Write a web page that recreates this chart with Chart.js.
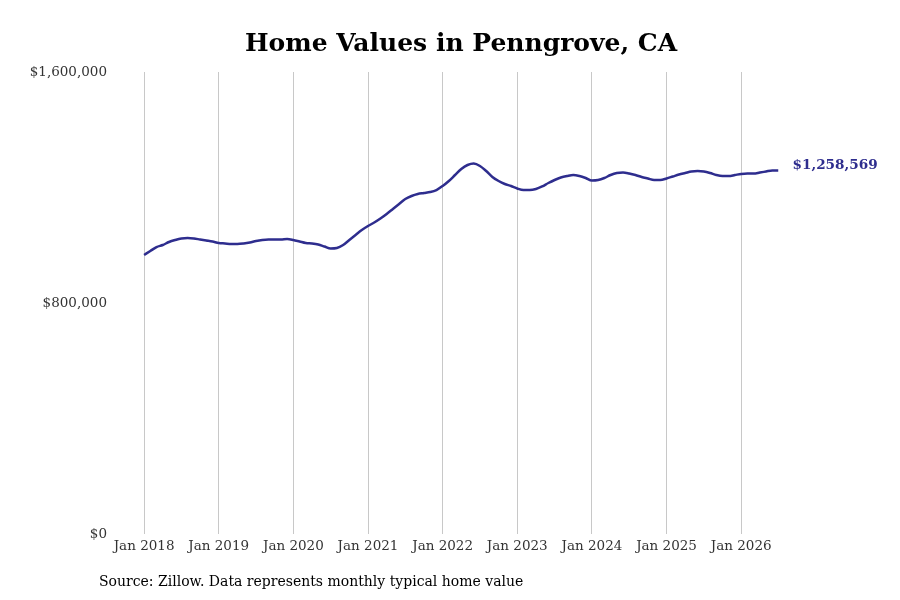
<!DOCTYPE html>
<html>
<head>
<meta charset="utf-8">
<title>Home Values in Penngrove, CA</title>
<script src="https://cdn.jsdelivr.net/npm/chart.js@4"></script>
<style>
  html, body { margin: 0; padding: 0; background: #fff; }
  #wrap { width: 900px; height: 600px; position: relative; }
</style>
</head>
<body>
<div id="wrap"><canvas id="chart" width="900" height="600"></canvas></div>
<script>
// Monthly typical home value, Jan 2018 .. Jul 2026
const values2018 = [966200, 980100, 993900, 1000900, 1011300, 1018200, 1023400, 1025100, 1023400, 1019900, 1016500, 1013000];
const values2019 = [1007800, 1006100, 1004300, 1004300, 1006100, 1009500, 1014700, 1018200, 1019900, 1019900, 1019900, 1021600];
const values2020 = [1018200, 1013000, 1007800, 1006100, 1002600, 995700, 988700, 990500, 1000900, 1018200, 1035500, 1052800];
const values2021 = [1066700, 1078800, 1092600, 1108200, 1125500, 1142900, 1160200, 1170600, 1177500, 1180900, 1184400, 1191300];
const values2022 = [1205200, 1222500, 1243300, 1264100, 1277900, 1283100, 1274500, 1257100, 1236400, 1222500, 1212100, 1205200];
const values2023 = [1196500, 1191300, 1191300, 1194800, 1203500, 1215600, 1226000, 1234600, 1239800, 1243300, 1239800, 1232900];
const values2024 = [1224200, 1226000, 1232900, 1243300, 1250200, 1251900, 1248500, 1243300, 1236400, 1231200, 1226000, 1226000];
const values2025 = [1231200, 1238100, 1245000, 1250200, 1255400, 1257100, 1255400, 1250200, 1243300, 1239800, 1239800, 1243300];
const values2026 = [1246800, 1248500, 1248500, 1251900, 1255400, 1258900, 1258569];

const xTickLabels = ['Jan 2018', 'Jan 2019', 'Jan 2020', 'Jan 2021', 'Jan 2022', 'Jan 2023', 'Jan 2024', 'Jan 2025', 'Jan 2026'];
const yTickValues = [0, 800000, 1600000];

const chartTitle = 'Home Values in Penngrove, CA';
const sourceNote = 'Source: Zillow. Data represents monthly typical home value';

const lineColor = '#2e2d8e';
const serif = "'DejaVu Serif', serif";

const allValues = [].concat(values2018, values2019, values2020, values2021, values2022,
  values2023, values2024, values2025, values2026);
const points = allValues.map((v, i) => ({ x: i, y: v }));

// title, source line and the end-of-line value label
const extraText = {
  id: 'extraText',
  afterDraw(chart) {
    const c = chart.ctx;
    c.save();
    c.textBaseline = 'middle';

    c.fillStyle = '#000';
    c.font = 'bold 25px ' + serif;
    c.textAlign = 'center';
    c.fillText(chartTitle, 461, 44);

    c.font = '14px ' + serif;
    c.textAlign = 'left';
    c.fillText(sourceNote, 99, 582);

    const last = points[points.length - 1];
    const px = chart.scales.x.getPixelForValue(last.x);
    const py = chart.scales.y.getPixelForValue(last.y);
    c.fillStyle = lineColor;
    c.font = 'bold 13.6px ' + serif;
    c.fillText('$' + last.y.toLocaleString('en-US'), px + 14, py - 5);
    c.restore();
  }
};

new Chart(document.getElementById('chart'), {
  type: 'line',
  data: {
    datasets: [{
      data: points,
      borderColor: lineColor,
      borderWidth: 2.5,
      pointRadius: 0,
      tension: 0.4,
      cubicInterpolationMode: 'monotone',
      fill: false
    }]
  },
  options: {
    responsive: false,
    animation: false,
    layout: { padding: { top: 72, right: 121.5, bottom: 36, left: 0 } },
    plugins: {
      legend: { display: false },
      title: { display: false },
      tooltip: { enabled: false }
    },
    scales: {
      x: {
        type: 'linear',
        min: -5,
        max: 102,
        border: { display: false },
        grid: { color: '#c8c8c8', lineWidth: 1, drawTicks: false },
        afterBuildTicks(scale) {
          scale.ticks = xTickLabels.map((_, i) => ({ value: i * 12 }));
        },
        afterFit(scale) { scale.height = 30; },
        ticks: {
          autoSkip: false,
          maxRotation: 0,
          padding: 4,
          color: '#333',
          font: { family: serif, size: 13.5 },
          callback: (v) => xTickLabels[v / 12]
        }
      },
      y: {
        min: 0,
        max: 1600000,
        border: { display: false },
        grid: { display: false, drawTicks: false },
        afterBuildTicks(scale) {
          scale.ticks = yTickValues.map((v) => ({ value: v }));
        },
        afterFit(scale) { scale.width = 113; },
        ticks: {
          padding: 6,
          color: '#333',
          font: { family: serif, size: 13.5 },
          callback: (v) => '$' + v.toLocaleString('en-US')
        }
      }
    }
  },
  plugins: [extraText]
});
</script>
</body>
</html>
